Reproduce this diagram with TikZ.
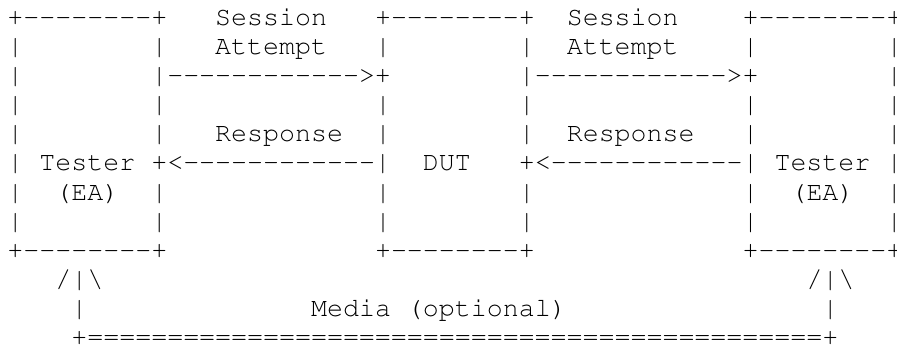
\documentclass[tikz,border=0pt]{standalone}
\usepackage[T1]{fontenc}
\usepackage{courier}
\tikzset{every picture/.style={line width=0.75pt}}
\tikzset{asc/.style={font=\ttfamily\fontsize{19.97pt}{24pt}\selectfont, inner sep=0pt, anchor=base west}}
% a run of single hyphens (keeps -- from turning into a dash)
\newcommand{\dashrun}[1]{\foreach \k in {1,...,#1}{-}}
\begin{document}
\begin{tikzpicture}[x=0.75pt,y=0.75pt,yscale=-1,xscale=1]
	%set diagram left start at 0, and has height of 349
	\path[fill=white] (0,0) rectangle (897,349);
	\useasboundingbox (0,0) rectangle (897,349);
	% Text Node: top edges
	\node [asc] (topL) at (7,25.5) {+\dashrun{8}+};
	\node [asc] (sesL) at (214.74,25.5) {Session};
	\node [asc] (topM) at (374.54,25.5) {+\dashrun{8}+};
	\node [asc] (sesR) at (566.3,25.5) {Session};
	\node [asc] (topR) at (742.08,25.5) {+\dashrun{8}+};
	% Text Node: row 2
	\node [asc] (b2a) at (7,54.6) {|};
	\node [asc] (b2b) at (150.82,54.6) {|};
	\node [asc] (attL) at (214.74,54.6) {Attempt};
	\node [asc] (b2c) at (374.54,54.6) {|};
	\node [asc] (b2d) at (518.36,54.6) {|};
	\node [asc] (attR) at (566.3,54.6) {Attempt};
	\node [asc] (b2e) at (742.08,54.6) {|};
	\node [asc] (b2f) at (885.9,54.6) {|};
	% Text Node: session attempt arrows
	\node [asc] (b3a) at (7,83.7) {|};
	\node [asc] (reqL) at (150.82,83.7) {|\dashrun{12}>+};
	\node [asc] (reqR) at (518.36,83.7) {|\dashrun{12}>+};
	\node [asc] (b3f) at (885.9,83.7) {|};
	% Text Node: row 4
	\node [asc] (b4a) at (7,112.8) {|};
	\node [asc] (b4b) at (150.82,112.8) {|};
	\node [asc] (b4c) at (374.54,112.8) {|};
	\node [asc] (b4d) at (518.36,112.8) {|};
	\node [asc] (b4e) at (742.08,112.8) {|};
	\node [asc] (b4f) at (885.9,112.8) {|};
	% Text Node: row 5
	\node [asc] (b5a) at (7,141.9) {|};
	\node [asc] (b5b) at (150.82,141.9) {|};
	\node [asc] (rspL) at (214.74,141.9) {Response};
	\node [asc] (b5c) at (374.54,141.9) {|};
	\node [asc] (b5d) at (518.36,141.9) {|};
	\node [asc] (rspR) at (566.3,141.9) {Response};
	\node [asc] (b5e) at (742.08,141.9) {|};
	\node [asc] (b5f) at (885.9,141.9) {|};
	% Text Node: response arrows and box names
	\node [asc] (b6a) at (7,171) {|};
	\node [asc] (tstL) at (38.96,171) {Tester};
	\node [asc] (ansL) at (150.82,171) {+<\dashrun{12}|};
	\node [asc] (dut) at (422.48,171) {DUT};
	\node [asc] (ansR) at (518.36,171) {+<\dashrun{12}|};
	\node [asc] (tstR) at (774.04,171) {Tester};
	\node [asc] (b6f) at (885.9,171) {|};
	% Text Node: row 7
	\node [asc] (b7a) at (7,200.1) {|};
	\node [asc] (eaL) at (54.94,200.1) {(EA)};
	\node [asc] (b7b) at (150.82,200.1) {|};
	\node [asc] (b7c) at (374.54,200.1) {|};
	\node [asc] (b7d) at (518.36,200.1) {|};
	\node [asc] (b7e) at (742.08,200.1) {|};
	\node [asc] (eaR) at (790.02,200.1) {(EA)};
	\node [asc] (b7f) at (885.9,200.1) {|};
	% Text Node: row 8
	\node [asc] (b8a) at (7,229.2) {|};
	\node [asc] (b8b) at (150.82,229.2) {|};
	\node [asc] (b8c) at (374.54,229.2) {|};
	\node [asc] (b8d) at (518.36,229.2) {|};
	\node [asc] (b8e) at (742.08,229.2) {|};
	\node [asc] (b8f) at (885.9,229.2) {|};
	% Text Node: bottom edges
	\node [asc] (botL) at (7,258.3) {+\dashrun{8}+};
	\node [asc] (botM) at (374.54,258.3) {+\dashrun{8}+};
	\node [asc] (botR) at (742.08,258.3) {+\dashrun{8}+};
	% Text Node: media links
	\node [asc] (upL) at (54.94,287.4) {/|\textbackslash};
	\node [asc] (upR) at (806,287.4) {/|\textbackslash};
	\node [asc] (stemL) at (70.92,316.5) {|};
	\node [asc] (media) at (310.62,316.5) {Media (optional)};
	\node [asc] (stemR) at (821.98,316.5) {|};
	\node [asc] (bus) at (70.92,345.6) {+==============================================+};
\end{tikzpicture}
\end{document}
